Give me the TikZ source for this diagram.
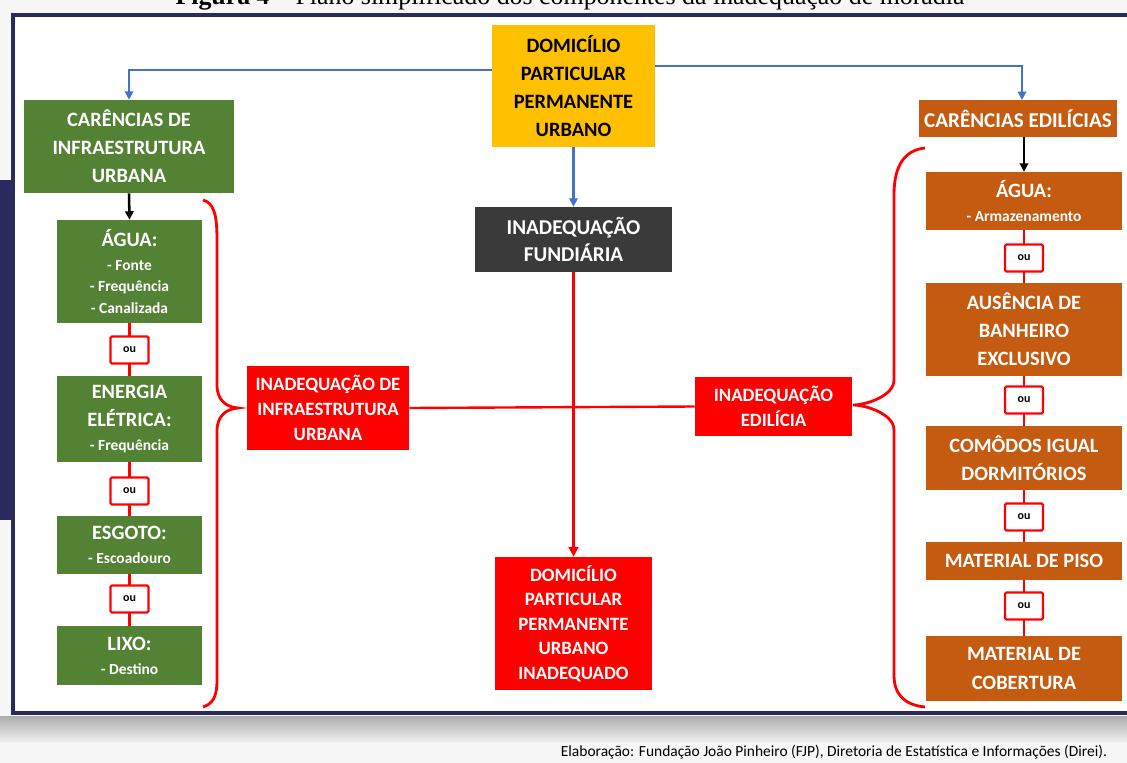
\documentclass[tikz,border=0pt]{standalone}
\usepackage{fontspec}
\setmainfont{Carlito}
\newfontfamily\capfont{Liberation Serif}
\usetikzlibrary{arrows.meta}
\definecolor{cyellow}{HTML}{FFC000}
\definecolor{cgreen}{HTML}{548235}
\definecolor{corange}{HTML}{C55A11}
\definecolor{cred}{HTML}{FF0000}
\definecolor{cdark}{HTML}{3A3A3A}
\definecolor{cblue}{HTML}{4472C4}
\definecolor{cnavy}{HTML}{2B2A5E}
\newcommand\bigtxt{\fontsize{14.5}{20}\selectfont\bfseries}
\newcommand\redtxt{\fontsize{13.4}{17.5}\selectfont\bfseries}
\newcommand\smtxt{\fontsize{11}{15}\selectfont\bfseries}
\begin{document}
\begin{tikzpicture}[x=0.025cm,y=-0.025cm,
  box/.style={align=center,inner sep=0pt,font=\bigtxt,text=white},
  infra/.style={box,fill=cgreen,minimum width=3.625cm},
  edil/.style={box,fill=corange,minimum width=4.9cm},
  inad/.style={box,fill=cred,font=\redtxt},
  oubox/.style={draw=cred,line width=1.5pt,rounded corners=1pt,fill=white,minimum width=0.95cm,minimum height=0.675cm,inner sep=0pt,font=\fontsize{8.5}{9}\selectfont\bfseries},
  bluearr/.style={cblue,line width=2.1pt,-{Triangle[length=6pt,width=6pt]}},
  blackarr/.style={black,line width=1.8pt,-{Triangle[length=6pt,width=6pt]}},
  redline/.style={cred,line width=1.7pt},
  brace/.style={cred,line width=2pt}]
  \useasboundingbox (0,0) rectangle (1127,763);
  % screenshot background, frame and shadow
  \fill[gray!6] (0,0) rectangle (1127,763);
  \shade[top color=gray!65,bottom color=gray!12] (0,716) rectangle (1127,742);
  \fill[cnavy] (0,180) rectangle (12,520);
  \draw[cnavy,line width=2.8pt,fill=white] (13,15) rectangle (1140,713);
  \node[anchor=base,font=\capfont\fontsize{18.4}{20}\selectfont] (caption) at (570,5) {\textbf{Figura 4} – Plano simplificado dos componentes da inadequação de moradia};
  \node[anchor=base east,font=\fontsize{11}{13}\selectfont] (fonte) at (1112,756) {Elaboração: Fundação João Pinheiro (FJP), Diretoria de Estatística e Informações (Direi).};

  % centre
  \node[box,fill=cyellow,text=black,minimum width=4.075cm,minimum height=3.05cm] (dom) at (573.5,86) {DOMICÍLIO\\PARTICULAR\\PERMANENTE\\URBANO};
  \node[box,fill=cdark,minimum width=4.925cm,minimum height=1.625cm,font=\fontsize{15}{19}\selectfont\bfseries] (fund) at (573.5,239.5) {INADEQUAÇÃO\\FUNDIÁRIA};
  \node[inad,minimum width=3.925cm,minimum height=3.325cm] (inadeq) at (573.5,623.5) {DOMICÍLIO\\PARTICULAR\\PERMANENTE\\URBANO\\INADEQUADO};
  \node[inad,minimum width=4.05cm,minimum height=2.1cm] (infraurb) at (328,408) {INADEQUAÇÃO DE\\INFRAESTRUTURA\\URBANA};
  \node[inad,minimum width=3.925cm,minimum height=1.475cm] (edilicia) at (773.5,406.5) {INADEQUAÇÃO\\EDILÍCIA};

  % left column
  \node[box,fill=cgreen,minimum width=5.25cm,minimum height=2.325cm] (carinfra) at (129,146.5) {CARÊNCIAS DE\\INFRAESTRUTURA\\URBANA};
  \node[infra,minimum height=2.575cm] (aguaI) at (129.5,271.5) {ÁGUA:\\[-3pt]\smtxt - Fonte\\[-5pt]\smtxt - Frequência\\[-5pt]\smtxt - Canalizada};
  \node[infra,minimum height=2.15cm] (energia) at (129.5,419) {ENERGIA\\ELÉTRICA:\\[-3pt]\smtxt - Frequência};
  \node[infra,minimum height=1.45cm] (esgoto) at (129.5,545) {ESGOTO:\\[-3pt]\smtxt - Escoadouro};
  \node[infra,minimum height=1.475cm] (lixo) at (129.5,655.5) {LIXO:\\[-3pt]\smtxt - Destino};

  % right column
  \node[box,fill=corange,minimum width=4.95cm,minimum height=0.925cm,font=\fontsize{15}{20}\selectfont\bfseries] (caredil) at (1018,118.5) {CARÊNCIAS EDILÍCIAS};
  \node[edil,minimum height=1.45cm] (aguaE) at (1024,201) {ÁGUA:\\[-3pt]\smtxt - Armazenamento};
  \node[edil,minimum height=2.325cm] (banheiro) at (1024,329.5) {AUSÊNCIA DE\\BANHEIRO\\EXCLUSIVO};
  \node[edil,minimum height=1.6cm] (comodos) at (1024,458) {COMÔDOS IGUAL\\DORMITÓRIOS};
  \node[edil,minimum height=0.95cm] (piso) at (1024,561) {MATERIAL DE PISO};
  \node[edil,minimum height=1.625cm] (cobertura) at (1024,668.5) {MATERIAL DE\\COBERTURA};

  % ou links
  \foreach \a/\b/\y in {aguaI/energia/350,energia/esgoto/491,esgoto/lixo/599}{
    \draw[redline] (\a.south) -- (\b.north);
    \node[oubox] at (129.5,\y) {ou};
  }
  \foreach \a/\b/\y in {aguaE/banheiro/258,banheiro/comodos/400,comodos/piso/517,piso/cobertura/606}{
    \draw[redline] (\a.south) -- (\b.north);
    \node[oubox] at (1024,\y) {ou};
  }

  % arrows
  \draw[bluearr] (dom.west |- 0,70) -| (carinfra.north);
  \draw[bluearr] (dom.east |- 0,66) -| (1022,100);
  \draw[bluearr] (dom.south) -- (fund.north);
  \draw[blackarr] (carinfra.south) -- (aguaI.north);
  \draw[blackarr] (aguaE.north |- caredil.south) -- (aguaE.north);
  \draw[redline,-{Triangle[length=7pt,width=7pt]}] (fund.south) -- (inadeq.north);
  \draw[redline] (infraurb.east) -- (edilicia.west);

  % braces
  \draw[brace] (203,200) .. controls (214,203) and (217,215) .. (217,240) -- (217,385)
    .. controls (217,400) and (226,407) .. (238,408) .. controls (226,409) and (217,416) .. (217,431)
    -- (217,680) .. controls (217,698) and (212,704) .. (203,707);
  \draw[brace] (925,148) .. controls (905,150) and (894,165) .. (894,195) -- (894,380)
    .. controls (894,396) and (866,405) .. (853,405) .. controls (866,405) and (894,414) .. (894,430)
    -- (894,675) .. controls (894,695) and (905,705) .. (925,707);
\end{tikzpicture}
\end{document}
